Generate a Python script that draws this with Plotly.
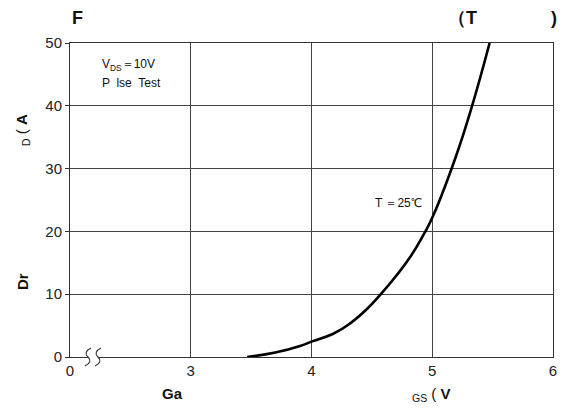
import plotly.graph_objects as go

# Data (V_GS in volts, I_D in amps)
vgs = [3.467, 3.70, 3.905, 4.0, 4.18, 4.32, 4.457, 4.567, 4.70, 4.82, 4.94, 5.01, 5.19, 5.33, 5.475]
id_a = [0.0, 0.7, 1.75, 2.45, 3.7, 5.35, 7.6, 9.85, 12.9, 16.0, 19.9, 22.6, 31.6, 40.0, 50.0]

x_tickvals = [2, 3, 4, 5, 6]
x_ticktext = ["0", "3", "4", "5", "6"]
y_tickvals = [0, 10, 20, 30, 40, 50]

FONT = "Liberation Sans, Arial, sans-serif"
W, H = 562, 410
ML, MR, MT, MB = 70, 9, 43, 53

fig = go.Figure()
fig.add_trace(go.Scatter(x=vgs, y=id_a, mode="lines",
                         line=dict(color="black", width=2.6, shape="spline", smoothing=1.3),
                         hoverinfo="skip", showlegend=False))

fig.update_layout(
    width=W, height=H,
    margin=dict(l=ML, r=MR, t=MT, b=MB),
    paper_bgcolor="white", plot_bgcolor="white",
    font=dict(family=FONT, color="#222", size=15),
    showlegend=False,
    xaxis=dict(range=[2, 6], tickvals=x_tickvals, ticktext=x_ticktext,
               showgrid=True, gridcolor="#444", gridwidth=1,
               showline=True, linecolor="#333", linewidth=1, mirror=True,
               zeroline=False, ticks="", automargin=False,
               tickfont=dict(size=15, family=FONT)),
    yaxis=dict(range=[0, 50], tickvals=y_tickvals,
               showgrid=True, gridcolor="#444", gridwidth=1,
               showline=True, linecolor="#333", linewidth=1, mirror=True,
               zeroline=False, ticks="outside", ticklen=4, tickcolor="#333",
               automargin=False, tickfont=dict(size=15, family=FONT)),
)

# pixel -> paper coordinate helpers (for decorations and text placement)
def px(xp):
    return (xp - ML) / (W - ML - MR)
def py(yp):
    return (H - MB - yp) / (H - MT - MB)

# axis break: gap in the axis line plus two S-shaped marks
fig.add_shape(type="rect", xref="paper", yref="paper",
              x0=px(89), x1=px(99), y0=py(359), y1=py(355.5),
              fillcolor="white", line=dict(width=0), layer="above")
for xc in [88, 98]:
    path = (f"M {px(xc+3):.5f},{py(348):.5f} "
            f"Q {px(xc-5):.5f},{py(352):.5f} {px(xc):.5f},{py(357):.5f} "
            f"Q {px(xc+5):.5f},{py(362):.5f} {px(xc-3):.5f},{py(366):.5f}")
    fig.add_shape(type="path", xref="paper", yref="paper", path=path,
                  line=dict(color="#333", width=1.1), layer="above")

ann = [
    dict(x=70, y=18, text="<b>F</b>", size=18, xanchor="left", angle=0),
    dict(x=446, y=18, text="<b>（T</b>", size=18, xanchor="left", angle=0),
    dict(x=549, y=18, text="<b>)</b>", size=18, xanchor="left", angle=0),
    dict(x=100, y=65, text="V<sub>DS</sub>＝10V", size=12, xanchor="left", angle=0),
    dict(x=100, y=83, text="P  lse  Test", size=12, xanchor="left", angle=0),
    dict(x=373, y=203, text="T ＝25℃", size=12, xanchor="left", angle=0),
    dict(x=172, y=393, text="<b>Ga</b>", size=15, xanchor="center", angle=0),
    dict(x=410, y=394, text="<sub>GS</sub> ( <b>V</b>", size=15, xanchor="left", angle=0),
    dict(x=22, y=282, text="<b>Dr</b>", size=15, xanchor="center", angle=-90),
    dict(x=22, y=130, text="<sub>D</sub> ( <b>A</b>", size=15, xanchor="center", angle=-90),
]
for a in ann:
    fig.add_annotation(x=px(a["x"]), y=py(a["y"]), xref="paper", yref="paper", text=a["text"],
                       showarrow=False, xanchor=a["xanchor"], yanchor="middle",
                       textangle=a["angle"],
                       font=dict(size=a["size"], family=FONT, color="#111"))

fig.write_html("out.html")
